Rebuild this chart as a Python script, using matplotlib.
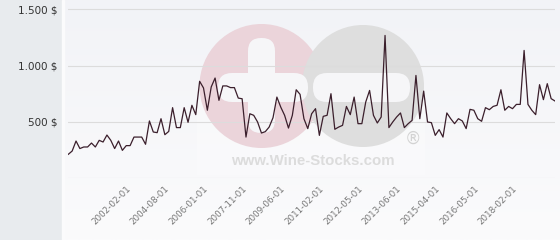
import matplotlib
matplotlib.use("Agg")
import matplotlib.pyplot as plt
from matplotlib.patches import Circle, FancyBboxPatch, Rectangle
import numpy as np

# price history (one value per quote)
prices = [213, 242, 331, 264, 278, 278, 313, 278, 337, 322,
          384, 337, 264, 331, 248, 290, 290, 366, 366, 366,
          302, 509, 411, 405, 529, 387, 416, 627, 450, 450,
          627, 497, 648, 565, 861, 802, 604, 811, 890, 692,
          820, 820, 805, 805, 712, 706, 366, 573, 559, 500,
          402, 414, 455, 538, 721, 632, 559, 446, 559, 786,
          745, 529, 441, 573, 618, 381, 550, 559, 751, 435,
          455, 470, 638, 565, 721, 485, 485, 677, 780, 559,
          491, 544, 1268, 450, 500, 544, 580, 450, 485, 514,
          913, 529, 774, 500, 494, 381, 432, 366, 580, 529,
          485, 529, 509, 441, 612, 604, 529, 506, 627, 609,
          638, 648, 786, 604, 638, 618, 656, 656, 1135, 656,
          604, 565, 831, 698, 840, 707, 686]

tick_pos = [15, 25, 35, 45, 55, 65, 75, 85, 95, 105, 115]
tick_dates = ["2002-02-01", "2004-08-01", "2006-01-01", "2007-11-01",
              "2009-06-01", "2011-02-01", "2012-05-01", "2013-06-01",
              "2015-04-01", "2016-05-01", "2018-02-01"]

y_ticks = [0, 500, 1000, 1500]
y_labels = ["", "500 $", "1.000 $", "1.500 $"]

W, H = 560, 240
fig = plt.figure(figsize=(W / 100, H / 100), dpi=100)
fig.patch.set_facecolor("#f7f8fa")

# background layer in pixel coords (y goes down)
bg = fig.add_axes([0, 0, 1, 1], zorder=0)
bg.set_xlim(0, W)
bg.set_ylim(H, 0)
bg.axis("off")

# soft vertical gradient behind the plot
grad = np.linspace(0, 1, 100).reshape(-1, 1)
bg.imshow(grad, extent=(63, W, H, 0), cmap=matplotlib.colors.LinearSegmentedColormap.from_list(
    "g", ["#f2f3f7", "#fbfbfc"]), aspect="auto", zorder=0)
bg.add_patch(Rectangle((0, 0), 62, H, color="#e8ebee", zorder=1))
bg.add_patch(Rectangle((62, 0), 1.5, H, color="#fbfbfc", zorder=1))

# watermark logo
bg.add_patch(Rectangle((197, 100), 228, 75, color="white", alpha=0.25, lw=0, zorder=1))
bg.add_patch(Circle((261.5, 86), 62, color="#ebd4da", lw=0, zorder=2))
bg.add_patch(Circle((363, 86), 61, color="#dedede", lw=0, zorder=3))
white = "#f6f6f8"
bg.add_patch(FancyBboxPatch((248 + 13, 38 + 13), 1, 95 - 26,
                            boxstyle="round,pad=13", color=white, lw=0, zorder=4))
bg.add_patch(FancyBboxPatch((218 + 14, 73 + 14), 90 - 28, 1,
                            boxstyle="round,pad=14", color=white, lw=0, zorder=4))
bg.add_patch(FancyBboxPatch((313 + 14, 73 + 14), 97 - 28, 1,
                            boxstyle="round,pad=14", color=white, lw=0, zorder=4))
bg.text(312.5, 161, "www.Wine-Stocks.com", ha="center", va="center",
        fontsize=10.8, fontweight="bold", family="Liberation Sans",
        color="#dcdcdc", zorder=5)
bg.text(413, 139, "®", ha="center", va="center", fontsize=12,
        family="DejaVu Sans", color="#d3d3d3", zorder=5)

# the chart itself
ax = fig.add_axes([68.3 / W, 1 - 178.3 / H, (555 - 68.3) / W, 178.3 / H], zorder=2)
ax.patch.set_alpha(0)
x = np.arange(len(prices))
ax.plot(x, prices, color="#3b1f2c", lw=0.9, zorder=3)

ax.set_xlim(0, len(prices) - 1)
ax.set_ylim(0, 1500 + 9.3 * 500 / 56.3)
ax.set_yticks(y_ticks)
ax.set_yticklabels(y_labels)
ax.set_xticks(tick_pos)
ax.set_xticklabels(tick_dates, rotation=45, ha="right", rotation_mode="anchor")
ax.tick_params(axis="y", length=0, pad=8, labelsize=7.5, labelcolor="#333333")
ax.tick_params(axis="x", length=0, pad=4, labelsize=6.3, labelcolor="#777777")
ax.grid(axis="y", color="#dcdcdc", lw=0.8)
ax.set_axisbelow(True)
for s in ax.spines.values():
    s.set_visible(False)

fig.savefig("out.png", dpi=100, facecolor=fig.get_facecolor())
